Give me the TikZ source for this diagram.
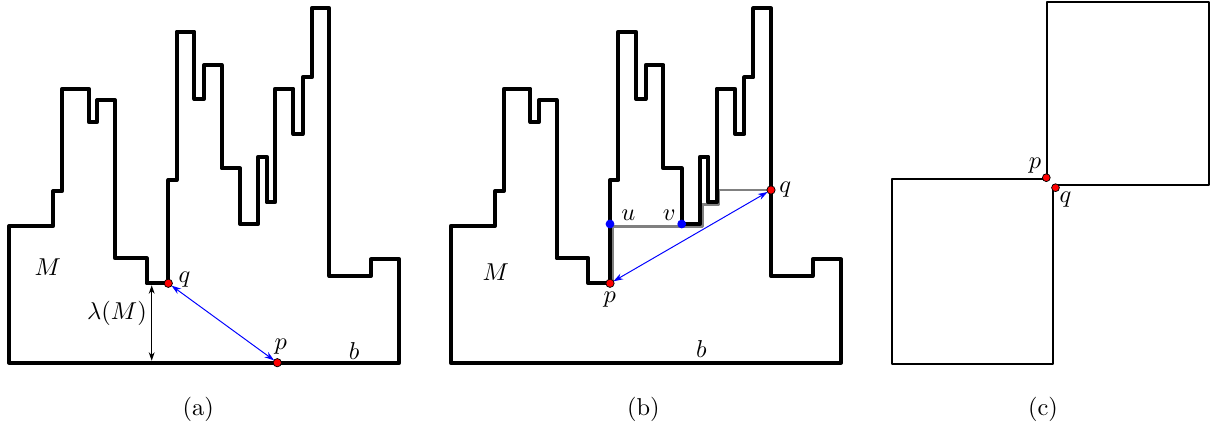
\documentclass[tikz,border=0pt]{standalone}
\usetikzlibrary{arrows.meta}

\tikzset{
  wall/.style={line width=1.6pt, line join=round},
  thinwall/.style={line width=0.85pt, line join=round},
  reddot/.style={fill=red, draw=black, line width=0.3pt},
  bluedot/.style={fill=blue},
  chord/.style={blue, line width=0.4pt,
    {Stealth[length=4pt,width=2.6pt]}-{Stealth[length=4pt,width=2.6pt]},
    shorten <=1.6pt, shorten >=1.6pt},
  gauge/.style={black, line width=0.4pt,
    {Stealth[length=3.5pt,width=2.4pt]}-{Stealth[length=3.5pt,width=2.4pt]},
    shorten <=0.8pt, shorten >=0.8pt},
  route/.style={gray, line width=1.1pt, line join=round}
}

% the staircase polygon M, base b on the x-axis
\def\skyline{(0.9,0) -- (0.9,13.67) -- (5.33,13.67) -- (5.33,17.17)
  -- (6.23,17.17) -- (6.23,27.4) -- (8.87,27.4) -- (8.87,24.07)
  -- (9.73,24.07) -- (9.73,26.27) -- (11.5,26.27) -- (11.5,10.44)
  -- (14.67,10.44) -- (14.67,7.94) -- (16.83,7.94) -- (16.83,18.27)
  -- (17.67,18.27) -- (17.67,33.1) -- (19.43,33.1) -- (19.43,26.37)
  -- (20.4,26.37) -- (20.4,29.77) -- (22.17,29.77) -- (22.17,19.44)
  -- (24,19.44) -- (24,13.87) -- (25.83,13.87) -- (25.83,20.6)
  -- (26.67,20.6) -- (26.67,16.04) -- (27.5,16.04) -- (27.5,27.4)
  -- (29.33,27.4) -- (29.33,22.87) -- (30.27,22.87) -- (30.27,28.54)
  -- (31.17,28.54) -- (31.17,35.44) -- (32.93,35.44) -- (32.93,8.67)
  -- (37.1,8.67) -- (37.1,10.34) -- (39.93,10.34) -- (39.93,0) -- cycle}

\begin{document}
\begin{tikzpicture}[x=1.44mm, y=1.44mm]

  \useasboundingbox (0,-6.73) rectangle (121.4,36.27);

  % (a)
  \draw[wall] \skyline;

  \coordinate (qa) at (16.83,7.94);
  \coordinate (pa) at (27.73,0);
  \coordinate (lo) at (15.17,0);
  \coordinate (hi) at (15.17,7.94);

  \draw[gauge] (lo) -- (hi);
  \draw[chord] (qa) -- (pa);

  \fill[reddot] (qa) circle (1.7pt);
  \fill[reddot] (pa) circle (1.7pt);

  \node (Ma) at (4.78,9.6) {$M$};
  \node (lam) at (11.7,4.94) {$\lambda(M)$};
  \node (qalab) at (18.45,8.35) {$q$};
  \node (palab) at (28.07,1.57) {$p$};
  \node (ba) at (35.4,1.19) {$b$};
  \node (capa) at (19.83,-4.65) {(a)};

  % (b)
  \begin{scope}[shift={(44.17,0)}]
    \coordinate (pb) at (16.83,7.94);
    \coordinate (qb) at (32.93,17.27);
    \coordinate (u) at (16.83,13.87);
    \coordinate (v) at (24,13.87);

    % path from p to q, under the boundary
    \draw[route] (17.05,7.94) -- (17.05,13.65) -- (26.05,13.65)
      -- (26.05,15.82) -- (27.72,15.82) -- (27.72,17.27) -- (qb);

    \draw[wall] \skyline;

    \draw[chord] (qb) -- (pb);

    \fill[bluedot] (u) circle (1.8pt);
    \fill[bluedot] (v) circle (1.8pt);
    \fill[reddot] (pb) circle (1.7pt);
    \fill[reddot] (qb) circle (1.7pt);

    \node (Mb) at (5.41,9.02) {$M$};
    \node (ulab) at (18.66,14.72) {$u$};
    \node (vlab) at (22.75,14.72) {$v$};
    \node (pblab) at (16.8,6.35) {$p$};
    \node (qblab) at (34.36,17.27) {$q$};
    \node (bb) at (25.96,1.35) {$b$};
  \end{scope}
  \node (capb) at (64.33,-4.65) {(b)};

  % (c)
  \coordinate (pc) at (104.73,18.34);
  \coordinate (qc) at (105.27,17.74);

  \draw[thinwall] (pc) -- (89.2,18.34) -- (89.2,-0.1) -- (105.27,-0.1) -- (qc);
  \draw[thinwall] (pc) -- (104.73,36.1) -- (120.93,36.1) -- (120.93,17.74) -- (qc);

  \fill[reddot] (104.63,18.5) circle (1.6pt);
  \fill[reddot] (105.55,17.5) circle (1.6pt);

  \node (pclab) at (103.5,19.69) {$p$};
  \node (qclab) at (106.55,16.35) {$q$};
  \node (capc) at (104.3,-4.65) {(c)};

\end{tikzpicture}
\end{document}
